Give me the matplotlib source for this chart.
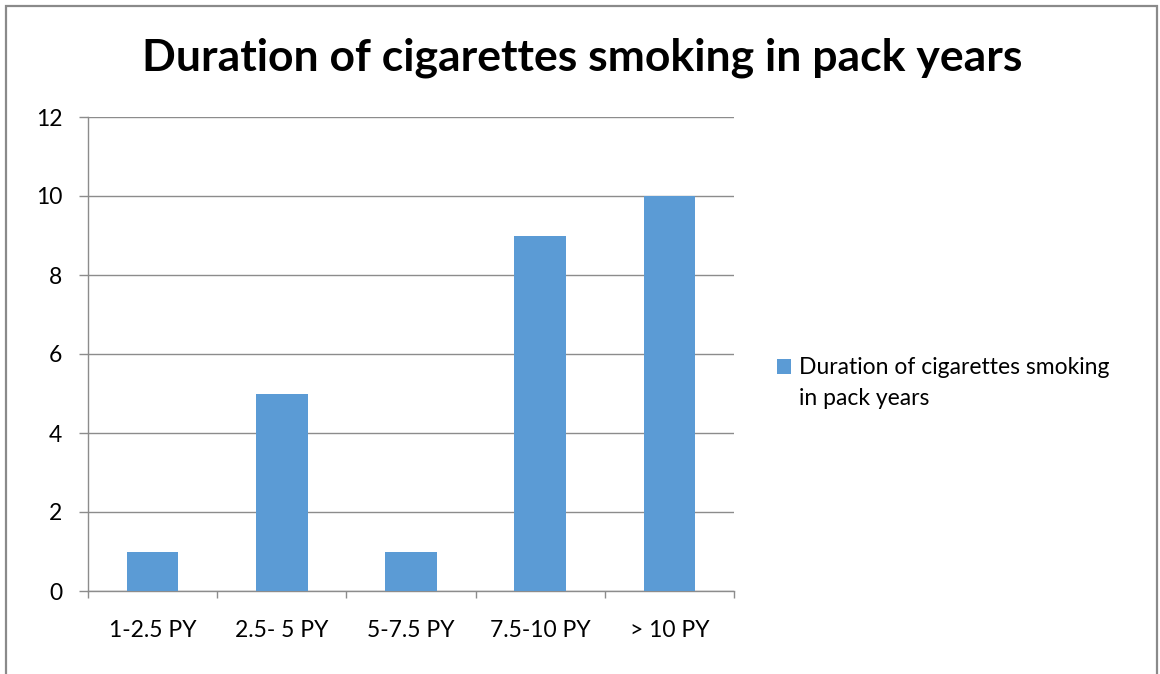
import matplotlib
matplotlib.use("Agg")
import matplotlib.pyplot as plt
from matplotlib.patches import Rectangle, Patch

categories = ["1-2.5 PY", "2.5- 5 PY", "5-7.5 PY", "7.5-10 PY", "> 10 PY"]
values = [1, 5, 1, 9, 10]
series_name = "Duration of cigarettes smoking in pack years"
title = "Duration of cigarettes smoking in pack years"
yticks = [0, 2, 4, 6, 8, 10, 12]

plt.rcParams['font.family'] = ['Lato', 'DejaVu Sans']

W, H = 1160, 674
fig = plt.figure(figsize=(W / 100, H / 100), dpi=100)
fig.patch.set_facecolor("white")

# outer frame
fig.add_artist(Rectangle((5.5 / W, -0.1), (1157 - 5.5) / W, 1 - 6.5 / H + 0.1,
                         transform=fig.transFigure, fill=False,
                         edgecolor="#8a8a8a", linewidth=1.6))

ax = fig.add_axes([88 / W, 1 - 591 / H, (734 - 88) / W, (591 - 117) / H])
bar_color = "#5B9BD5"
x = list(range(len(categories)))
ax.bar(x, values, width=0.4, color=bar_color, zorder=3, label=series_name)

fs = 16.5
ax.set_xlim(-0.5, len(categories) - 0.5)
ax.set_ylim(0, 12)
ax.set_yticks(yticks)
ax.set_yticklabels([str(t) for t in yticks], fontsize=fs)
ax.yaxis.grid(True, color="#8c8c8c", linewidth=1.0, zorder=0)
ax.set_xticks(x)
ax.set_xticklabels(categories, fontsize=fs)
ax.set_xticks([i - 0.5 for i in range(len(categories) + 1)], minor=True)
ax.tick_params(axis="x", which="major", length=0, pad=21)
ax.tick_params(axis="x", which="minor", length=5, color="#8c8c8c", width=1.0)
ax.tick_params(axis="y", length=6.5, color="#8c8c8c", width=1.0, pad=12)
for s in ["top", "right"]:
    ax.spines[s].set_visible(False)
for s in ["left", "bottom"]:
    ax.spines[s].set_color("#8c8c8c")
    ax.spines[s].set_linewidth(1.0)

fig.text(582 / W, 1 - 58 / H, title, ha="center", va="center",
         fontsize=32, fontweight="bold")

# legend: marker aligned with the first line of the wrapped series name
words = series_name.split(" ")
line1 = " ".join(words[:4])
line2 = " ".join(words[4:])
handle = Patch(facecolor=bar_color, edgecolor="none")
fig.legend([handle], [line1],
           loc="center left", bbox_to_anchor=(777 / W, 1 - 368 / H),
           frameon=False, fontsize=fs, handlelength=0.6, handleheight=0.6,
           handletextpad=0.35, borderaxespad=0, borderpad=0)
fig.text(799 / W, 1 - 399 / H, line2, ha="left", va="center", fontsize=fs)

fig.savefig("out.png", dpi=100, facecolor="white")
